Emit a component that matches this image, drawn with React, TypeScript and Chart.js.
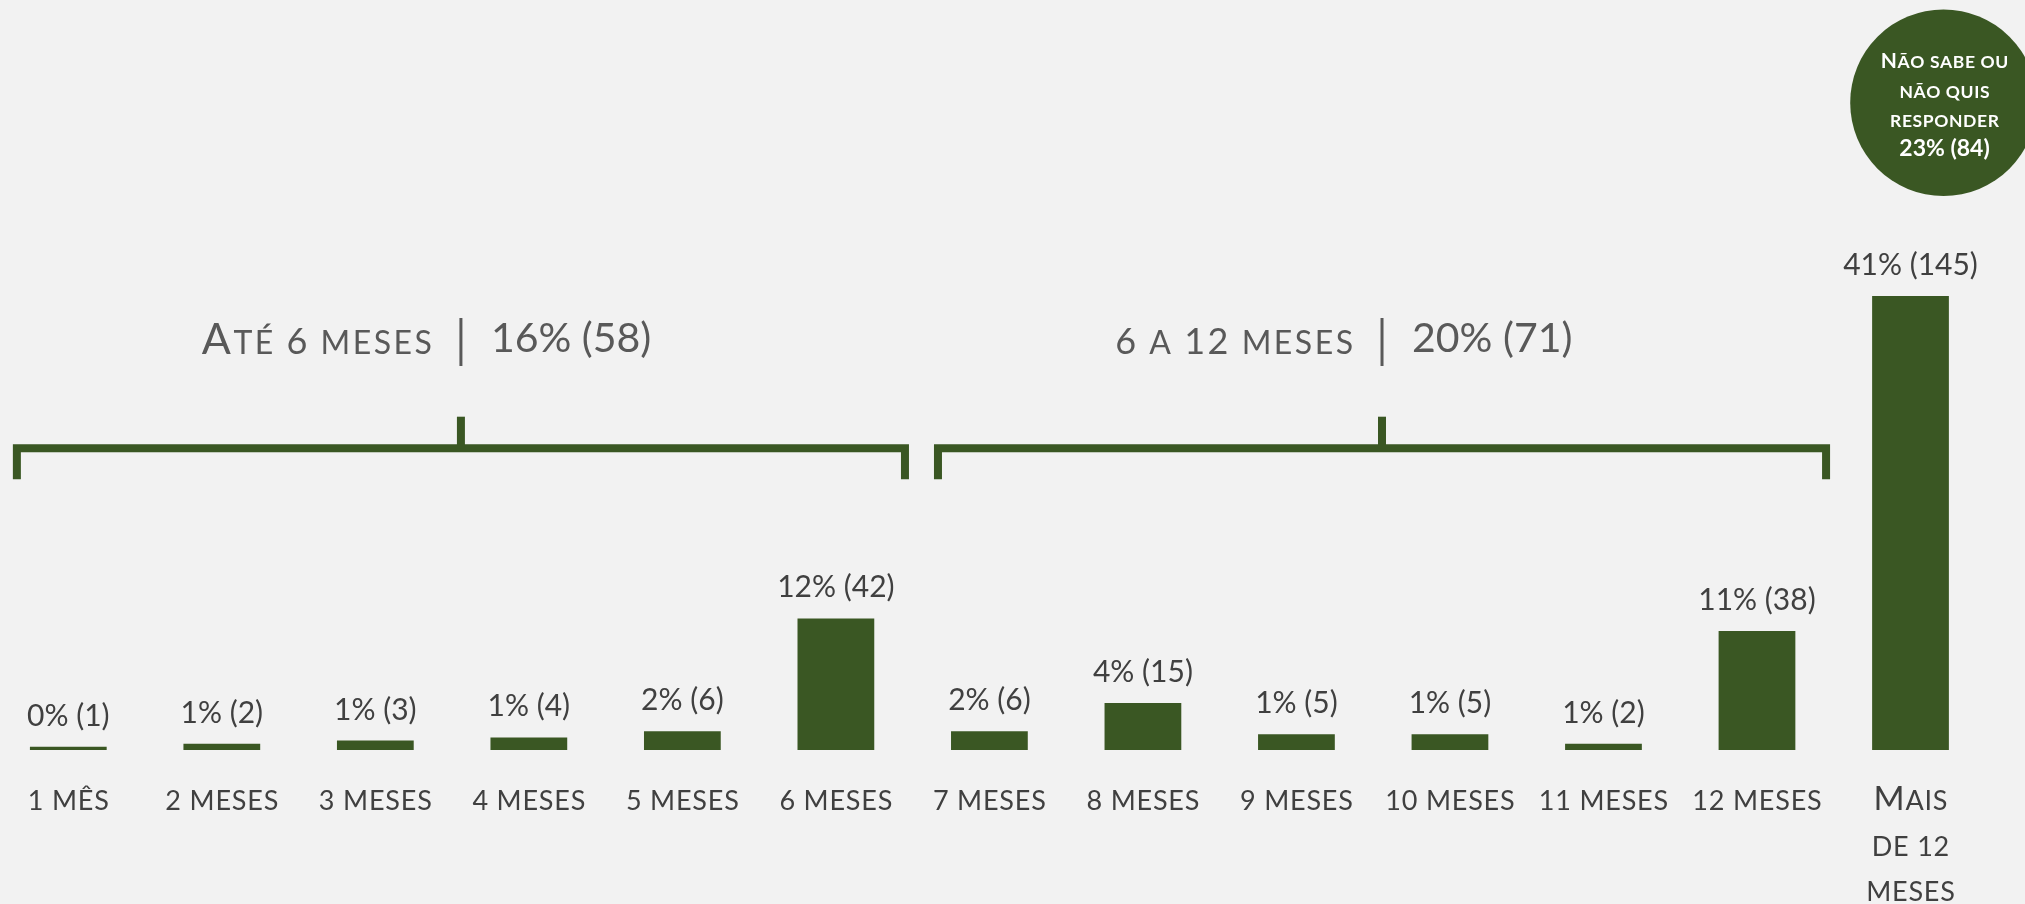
import { useEffect, useRef } from "react";
import { Chart, registerables } from "chart.js";

Chart.register(...registerables);

// ---------- data ----------
const CATEGORY_LABELS: (string | string[])[] = [
  "1 mês",
  "2 meses",
  "3 meses",
  "4 meses",
  "5 meses",
  "6 meses",
  "7 meses",
  "8 meses",
  "9 meses",
  "10 meses",
  "11 meses",
  "12 meses",
  ["Mais", "de 12", "meses"],
];
const COUNTS = [1, 2, 3, 4, 6, 42, 6, 15, 5, 5, 2, 38, 145];
const PERCENTS = [0, 1, 1, 1, 2, 12, 2, 4, 1, 1, 1, 11, 41];

const GROUP_LABELS = ["Até 6 meses", "6 a 12 meses"];
const GROUP_PERCENTS = [16, 20];
const GROUP_COUNTS = [58, 71];
const GROUP_FIRST = [0, 6];
const GROUP_LAST = [5, 11];

const NO_ANSWER_LINES = ["Não sabe ou", "não quis", "responder"];
const NO_ANSWER_PERCENT = 23;
const NO_ANSWER_COUNT = 84;

// ---------- styles ----------
const GREEN = "#3A5723";
const BG = "#F2F2F2";
const LABEL_COLOR = "#404040";
const TITLE_COLOR = "#595959";
const FONT = "Lato, 'Open Sans', sans-serif";

type SC = { big: number; small: number; digit: number; weight: string; spacing: number };
const AXIS_SC: SC = { big: 33.5, small: 27, digit: 27, weight: "normal", spacing: 0.8 };
const TITLE_SC: SC = { big: 43, small: 32, digit: 36, weight: "normal", spacing: 2.5 };
const CIRCLE_SC: SC = { big: 21, small: 17.5, digit: 17.5, weight: "bold", spacing: 0.6 };

function scRuns(text: string, o: SC) {
  const out: { ch: string; font: string }[] = [];
  for (const c of text) {
    let size = o.small;
    let ch = c;
    if (/[0-9]/.test(c)) size = o.digit;
    else if (c !== c.toLowerCase()) size = o.big;
    else if (c !== c.toUpperCase()) {
      size = o.small;
      ch = c.toUpperCase();
    }
    out.push({ ch, font: `${o.weight} ${size}px ${FONT}` });
  }
  return out;
}

function measureSC(ctx: CanvasRenderingContext2D, text: string, o: SC) {
  const runs = scRuns(text, o);
  let w = 0;
  runs.forEach((r, i) => {
    ctx.font = r.font;
    w += ctx.measureText(r.ch).width + (i < runs.length - 1 ? o.spacing : 0);
  });
  return w;
}

function drawSC(
  ctx: CanvasRenderingContext2D,
  text: string,
  x: number,
  y: number,
  o: SC,
  align: "left" | "center" | "right"
) {
  const w = measureSC(ctx, text, o);
  let cx = align === "left" ? x : align === "center" ? x - w / 2 : x - w;
  ctx.textAlign = "left";
  ctx.textBaseline = "alphabetic";
  for (const r of scRuns(text, o)) {
    ctx.font = r.font;
    ctx.fillText(r.ch, cx, y);
    cx += ctx.measureText(r.ch).width + o.spacing;
  }
}

const overlay = {
  id: "overlay",
  beforeDraw(chart: any) {
    const { ctx, width, height } = chart;
    ctx.save();
    ctx.fillStyle = BG;
    ctx.fillRect(0, 0, width, height);
    ctx.restore();
  },
  afterDatasetsDraw(chart: any) {
    const { ctx, chartArea } = chart;
    const xs = chart.scales.x;
    const meta = chart.getDatasetMeta(0);
    ctx.save();

    // value labels
    ctx.fillStyle = LABEL_COLOR;
    ctx.font = `30px ${FONT}`;
    ctx.textAlign = "center";
    ctx.textBaseline = "alphabetic";
    meta.data.forEach((bar: any, i: number) => {
      ctx.fillText(`${PERCENTS[i]}% (${COUNTS[i]})`, bar.x, bar.y - 21);
    });

    // category labels
    CATEGORY_LABELS.forEach((lab, i) => {
      const lines = Array.isArray(lab) ? lab : [lab];
      lines.forEach((ln, j) => {
        ctx.fillStyle = LABEL_COLOR;
        drawSC(ctx, ln, xs.getPixelForValue(i), chartArea.bottom + 60 + j * 45.5, AXIS_SC, "center");
      });
    });

    // group brackets and titles
    const step = xs.getPixelForValue(1) - xs.getPixelForValue(0);
    const yLine = 448.3;
    GROUP_FIRST.forEach((f, g) => {
      const l = xs.getPixelForValue(f) - 0.335 * step;
      const r = xs.getPixelForValue(GROUP_LAST[g]) + 0.45 * step;
      const c = (l + r) / 2;
      ctx.strokeStyle = GREEN;
      ctx.lineWidth = 8;
      ctx.lineCap = "butt";
      ctx.lineJoin = "miter";
      ctx.beginPath();
      ctx.moveTo(l, 479.3);
      ctx.lineTo(l, yLine);
      ctx.lineTo(r, yLine);
      ctx.lineTo(r, 479.3);
      ctx.stroke();
      ctx.beginPath();
      ctx.moveTo(c, yLine);
      ctx.lineTo(c, 416.7);
      ctx.stroke();

      ctx.strokeStyle = TITLE_COLOR;
      ctx.lineWidth = 3;
      ctx.beginPath();
      ctx.moveTo(c, 318);
      ctx.lineTo(c, 366);
      ctx.stroke();

      ctx.fillStyle = TITLE_COLOR;
      drawSC(ctx, GROUP_LABELS[g], c - 29, 354, TITLE_SC, "right");
      ctx.font = `41px ${FONT}`;
      ctx.textAlign = "left";
      ctx.fillText(`${GROUP_PERCENTS[g]}% (${GROUP_COUNTS[g]})`, c + 30, 352);
    });

    // "no answer" circle
    const cx = xs.getPixelForValue(CATEGORY_LABELS.length - 1) + 33;
    const cy = 102.7;
    ctx.fillStyle = GREEN;
    ctx.beginPath();
    ctx.arc(cx, cy, 93.3, 0, Math.PI * 2);
    ctx.fill();
    ctx.fillStyle = "#FFFFFF";
    const tx = cx + 1;
    NO_ANSWER_LINES.forEach((ln, j) => {
      drawSC(ctx, ln, tx, 68 + j * 29.5, CIRCLE_SC, "center");
    });
    ctx.font = `bold 23px ${FONT}`;
    ctx.textAlign = "center";
    ctx.fillText(`${NO_ANSWER_PERCENT}% (${NO_ANSWER_COUNT})`, tx, 156);

    ctx.restore();
  },
};

export default function App() {
  const ref = useRef<HTMLCanvasElement | null>(null);
  useEffect(() => {
    if (!ref.current) return;
    const chart = new Chart(ref.current, {
      type: "bar",
      data: {
        labels: CATEGORY_LABELS as any,
        datasets: [
          {
            data: COUNTS,
            backgroundColor: GREEN,
            barPercentage: 0.5,
            categoryPercentage: 1,
            clip: false as any,
          },
        ],
      },
      options: {
        animation: false,
        responsive: false,
        devicePixelRatio: 1,
        layout: { padding: { left: 68.3, right: 114.5, top: 0, bottom: 154 } },
        scales: {
          x: { display: false, offset: false },
          y: { display: false, min: 0, max: 239.5 },
        },
        plugins: { legend: { display: false }, tooltip: { enabled: false } },
      },
      plugins: [overlay],
    });
    return () => chart.destroy();
  }, []);
  return (
    <div style={{ position: "fixed", left: 0, top: 0, width: 2025, height: 904, background: BG }}>
      <canvas ref={ref} width={2025} height={904} style={{ display: "block" }} />
    </div>
  );
}
